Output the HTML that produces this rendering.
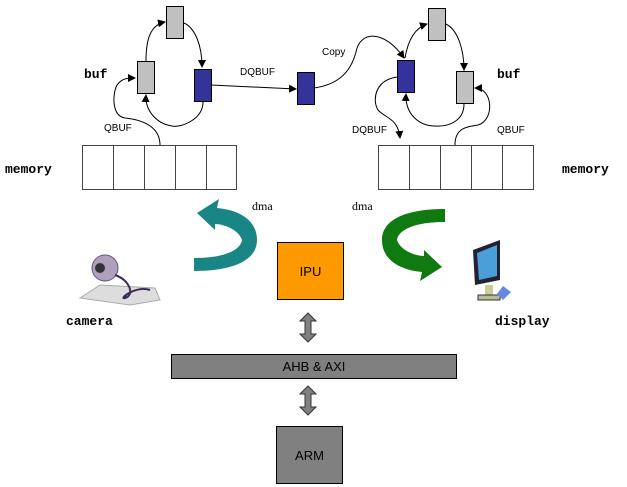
<!DOCTYPE html>
<html><head><style>
body{margin:0;background:#fff;}
svg{display:block}
.m{font-family:"Liberation Mono",monospace;font-weight:bold;font-size:13px}
.s{font-family:"Liberation Sans",sans-serif;font-size:10px}
</style></head><body>
<svg width="627" height="487" viewBox="0 0 627 487" xmlns="http://www.w3.org/2000/svg">
<defs>
<marker id="a" markerWidth="8" markerHeight="8" refX="7" refY="4" orient="auto" markerUnits="userSpaceOnUse"><path d="M0,0L8,4L0,8z" fill="#000"/></marker>
</defs>
<g fill="none" stroke="#000" stroke-width="1">
<path d="M146,61 C146,40 150,25 165,22" marker-end="url(#a)"/>
<path d="M184,23 C195,28 202,45 202,67" marker-end="url(#a)"/>
<path d="M203,102 C203,120 180,128 172,126 C158,124 145,112 146,95" marker-end="url(#a)"/>
<path d="M160,145 C160,128 145,120 125,118 C112,116 112,95 117,85 C122,78 128,78 135,78" marker-end="url(#a)"/>
<path d="M211,85 L296,89" marker-end="url(#a)"/>
<path d="M314,88 C335,85 350,75 356,52 C360,30 385,30 404,58" marker-end="url(#a)"/>
<path d="M405,58 C408,40 415,28 427,24" marker-end="url(#a)"/>
<path d="M446,24 C458,30 464,50 464,70" marker-end="url(#a)"/>
<path d="M464,104 C464,120 450,127 435,126 C420,126 405,115 406,94" marker-end="url(#a)"/>
<path d="M397,77 C375,80 372,100 378,110 C385,118 398,118 400,138" marker-end="url(#a)"/>
<path d="M455,145 C455,128 466,127 478,125 C495,120 493,88 475,88" marker-end="url(#a)"/>
</g>
<g stroke="#000" stroke-width="1">
<rect x="166.5" y="6.5" width="17" height="32" fill="#c0c0c0"/>
<rect x="137.5" y="61.5" width="17" height="32" fill="#c0c0c0"/>
<rect x="194.5" y="69.5" width="17" height="32" fill="#333399"/>
<rect x="297.5" y="72.5" width="17" height="32" fill="#333399"/>
<rect x="428.5" y="8.5" width="17" height="32" fill="#c0c0c0"/>
<rect x="397.5" y="60.5" width="17" height="32" fill="#333399"/>
<rect x="456.5" y="71.5" width="17" height="32" fill="#c0c0c0"/>
</g>
<g fill="#fff" stroke="#444" stroke-width="1">
<rect x="82.5" y="145.5" width="31" height="44"/><rect x="113.5" y="145.5" width="31" height="44"/><rect x="144.5" y="145.5" width="31" height="44"/><rect x="175.5" y="145.5" width="31" height="44"/><rect x="206.5" y="145.5" width="30" height="44"/>
<rect x="378.5" y="145.5" width="31" height="44"/><rect x="409.5" y="145.5" width="31" height="44"/><rect x="440.5" y="145.5" width="31" height="44"/><rect x="471.5" y="145.5" width="31" height="44"/><rect x="502.5" y="145.5" width="31" height="44"/>
</g>
<text class="m" x="84" y="78">buf</text>
<text class="m" x="497" y="78">buf</text>
<text class="m" x="5" y="173">memory</text>
<text class="m" x="562" y="173">memory</text>
<text class="m" x="66" y="325">camera</text>
<text class="m" x="495" y="325">display</text>
<text class="s" x="104" y="131">QBUF</text>
<text class="s" x="240" y="75">DQBUF</text>
<text class="s" x="322" y="55">Copy</text>
<text class="s" x="352" y="133">DQBUF</text>
<text class="s" x="497" y="133">QBUF</text>
<text x="252" y="210" font-family="Liberation Serif,serif" font-size="12">dma</text>
<text x="352" y="210" font-family="Liberation Serif,serif" font-size="12">dma</text>
<!-- teal arrow (green rotated 180) -->
<path transform="translate(639,480) rotate(180)" d="M445,209 L445,222 C410,222 398,232 397,240 C400,250 415,256 424,256 L424,250 L442,267 L420,281 L422,272 C400,270 382,260 382,240 C382,220 405,209 445,209Z" fill="#1a8585"/>
<!-- green arrow -->
<path d="M445,209 L445,222 C410,222 398,232 397,240 C400,250 415,256 424,256 L424,250 L442,267 L420,281 L422,272 C400,270 382,260 382,240 C382,220 405,209 445,209Z" fill="#0f7a0f"/>
<!-- camera -->
<g>
<path d="M80,298 L100,285 L155,288 L160,300 L130,305 Z" fill="#ddd" stroke="#aaa"/>
<circle cx="105" cy="268" r="13" fill="#b0a0c0" stroke="#665577"/>
<circle cx="100" cy="268" r="5" fill="#333"/>
<path d="M115,275 C130,280 135,295 125,298 C118,300 135,285 150,290" fill="none" stroke="#3a2a55" stroke-width="2"/>
</g>
<!-- display -->
<g>
<path d="M473,250 L500,240 L500,280 L475,285Z" fill="#223" />
<path d="M477,253 L497,245 L497,276 L479,280Z" fill="#4a9fd8"/>
<rect x="485" y="285" width="8" height="10" fill="#cc9"/>
<rect x="478" y="295" width="22" height="5" fill="#bb9" stroke="#333"/>
<path d="M503,286 L511,292 L503,300 L497,294Z" fill="#6688dd"/>
</g>
<rect x="277.5" y="242.5" width="66" height="57" fill="#ff9900" stroke="#000"/>
<text x="310.5" y="276" text-anchor="middle" font-family="Liberation Sans,sans-serif" font-size="13">IPU</text>
<rect x="171.5" y="354.5" width="285" height="24" fill="#808080" stroke="#000"/>
<text x="314" y="371" text-anchor="middle" font-family="Liberation Sans,sans-serif" font-size="13">AHB &amp; AXI</text>
<rect x="276.5" y="426.5" width="66" height="57" fill="#808080" stroke="#000"/>
<text x="309.5" y="460" text-anchor="middle" font-family="Liberation Sans,sans-serif" font-size="13">ARM</text>
<path d="M308,313 L316,321 L311,321 L311,334 L316,334 L308,342 L300,334 L305,334 L305,321 L300,321Z" fill="#808080" stroke="#333"/>
<path d="M308,386 L316,394 L311,394 L311,407 L316,407 L308,415 L300,407 L305,407 L305,394 L300,394Z" fill="#808080" stroke="#333"/>
</svg>
</body></html>
